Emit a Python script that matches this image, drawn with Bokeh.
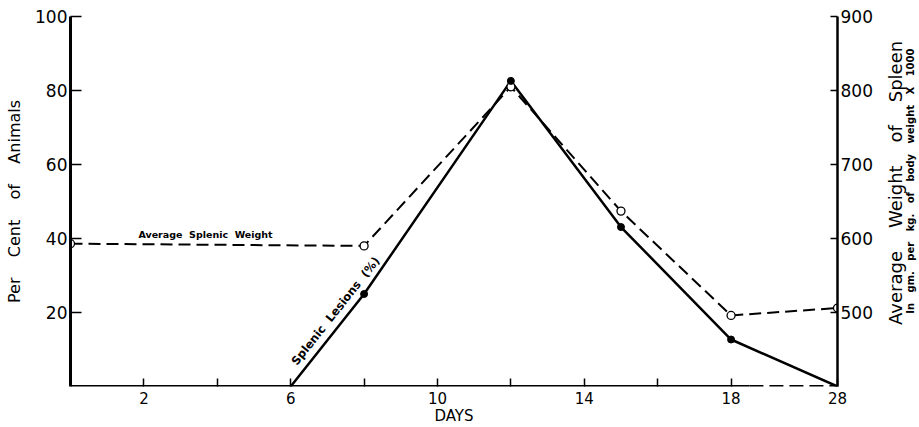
import math
from bokeh.plotting import figure
from bokeh.layouts import row
from bokeh.models import Range1d, LinearAxis, FixedTicker, Label, Arrow
from bokeh.embed import file_html
from bokeh.resources import INLINE

# ---- data ----
weight_days = [0, 8, 12, 15, 18, 28]
weight_values = [593, 590, 805, 637, 496, 506]          # gm per kg body weight x 1000
lesion_days = [6, 8, 12, 15, 18, 28]
lesion_values = [0, 25, 82.6, 43.1, 12.7, 0]            # per cent of animals
x_tick_days = [2, 4, 6, 8, 10, 12, 14, 16, 18, 28]
x_tick_labels = ["2", "", "6", "", "10", "", "14", "", "18", "28"]
left_ticks = [20, 40, 60, 80, 100]
right_ticks = [500, 600, 700, 800, 900]

BREAK_DAY = 18
BREAK_POS = 20.9     # plotted position of day 28 on the broken axis
SOLID_END = 18.5     # where the solid part of the day axis ends


def pos(d):
    return d if d <= BREAK_DAY else BREAK_POS


def spaced(words, n):
    return ("\u00a0" * n).join(words)


FONT = "DejaVu Sans"
W, H = 919, 427
SIDE_W = 39

p = figure(width=W - SIDE_W, height=H, title=None,
           x_range=Range1d(0, BREAK_POS), y_range=Range1d(0, 100),
           output_backend="svg", toolbar_location=None,
           min_border_left=70, min_border_right=43, min_border_top=16, min_border_bottom=40)
p.extra_y_ranges = {"w": Range1d(400, 900)}
p.xgrid.visible = False
p.ygrid.visible = False
p.outline_line_color = None
p.background_fill_color = "white"
p.border_fill_color = "white"

# bottom axis
xa = p.xaxis[0]
xa.ticker = FixedTicker(ticks=[pos(d) for d in x_tick_days])
xa.major_label_overrides = {pos(d): lab for d, lab in zip(x_tick_days, x_tick_labels)}
xa.major_tick_in = 8
xa.major_tick_out = 0
xa.major_tick_line_width = 1.5
xa.minor_tick_line_color = None
xa.axis_line_color = None
xa.major_label_standoff = 5
xa.major_label_text_font = FONT
xa.major_label_text_font_size = "15px"
xa.major_label_text_color = "black"
xa.axis_label = "DAYS"
xa.axis_label_standoff = 0
xa.axis_label_text_font = FONT
xa.axis_label_text_font_size = "15px"
xa.axis_label_text_font_style = "normal"
xa.axis_label_text_color = "black"

# left axis
ya = p.yaxis[0]
ya.ticker = FixedTicker(ticks=left_ticks)
ya.major_tick_in = 11
ya.major_tick_out = 0
ya.major_tick_line_width = 1.5
ya.minor_tick_line_color = None
ya.axis_line_width = 3
ya.axis_line_color = "black"
ya.major_label_standoff = 3
ya.major_label_text_font = FONT
ya.major_label_text_font_size = "17px"
ya.major_label_text_color = "black"
ya.axis_label = spaced(["Per", "Cent", "of", "Animals"], 4)
ya.axis_label_standoff = 8
ya.axis_label_text_font = FONT
ya.axis_label_text_font_size = "16px"
ya.axis_label_text_font_style = "normal"
ya.axis_label_text_color = "black"

# right axis
ra = LinearAxis(y_range_name="w", ticker=FixedTicker(ticks=right_ticks))
ra.major_tick_in = 7
ra.major_tick_out = 0
ra.major_tick_line_width = 1.5
ra.minor_tick_line_color = None
ra.axis_line_width = 2.5
ra.axis_line_color = "black"
ra.major_label_standoff = 3
ra.major_label_text_font = FONT
ra.major_label_text_font_size = "17px"
ra.major_label_text_color = "black"
p.add_layout(ra, "right")

# broken day axis line: solid, then dashed to day 28
p.add_layout(Arrow(end=None, x_start=0, y_start=0, x_end=SOLID_END, y_end=0,
                   line_width=3, line_color="black"))
p.add_layout(Arrow(end=None, x_start=SOLID_END, y_start=0, x_end=BREAK_POS, y_end=0,
                   line_width=3, line_color="black", line_dash="14 6"))

wx = [pos(d) for d in weight_days]
lx = [pos(d) for d in lesion_days]

p.line(wx, weight_values, y_range_name="w", line_color="black",
       line_width=2, line_dash="12 6")
p.line(lx, lesion_values, line_color="black", line_width=2.5)
p.scatter(wx, weight_values, y_range_name="w", marker="circle", size=8,
          fill_color="white", line_color="black", line_width=1.3)
fx = [x for x, v in zip(lx, lesion_values) if v > 0]
fv = [v for v in lesion_values if v > 0]
p.scatter(fx, fv, marker="circle", size=7, fill_color="black", line_color="black")

# annotations inside the plot
p.add_layout(Label(x=3.68, y=605, y_range_name="w",
                   text=spaced(["Average", "Splenic", "Weight"], 2),
                   text_font=FONT, text_font_size="9.5px", text_font_style="bold",
                   text_align="center", text_baseline="middle", text_color="black"))
p.add_layout(Label(x=7.22, y=20.4, angle=0.90,
                   text=spaced(["Splenic", "Lesions", "(%)"], 2),
                   text_font=FONT, text_font_size="11.5px", text_font_style="bold",
                   text_align="center", text_baseline="middle", text_color="black"))

# right-hand titles (read bottom-to-top) in a narrow side panel
side = figure(width=SIDE_W, height=H, x_range=Range1d(0, SIDE_W), y_range=Range1d(0, H),
              output_backend="svg", toolbar_location=None, min_border=0,
              x_axis_location=None, y_axis_location=None)
side.outline_line_color = None
side.xgrid.visible = False
side.ygrid.visible = False
side.background_fill_color = "white"
side.border_fill_color = "white"
side.add_layout(Label(x=15, y=H - 192, angle=math.pi / 2,
                      text=spaced(["Average", "Weight", "of", "Spleen"], 4),
                      text_font=FONT, text_font_size="18px",
                      text_align="center", text_baseline="middle", text_color="black"))
side.add_layout(Label(x=30, y=H - 190, angle=math.pi / 2,
                      text=spaced(["In", "gm.", "per", "kg.", "of", "body", "weight", "X", "1000"], 3),
                      text_font=FONT, text_font_size="10px", text_font_style="bold",
                      text_align="center", text_baseline="middle", text_color="black"))

layout = row(p, side)
open("out.html", "w").write(file_html(layout, INLINE))
